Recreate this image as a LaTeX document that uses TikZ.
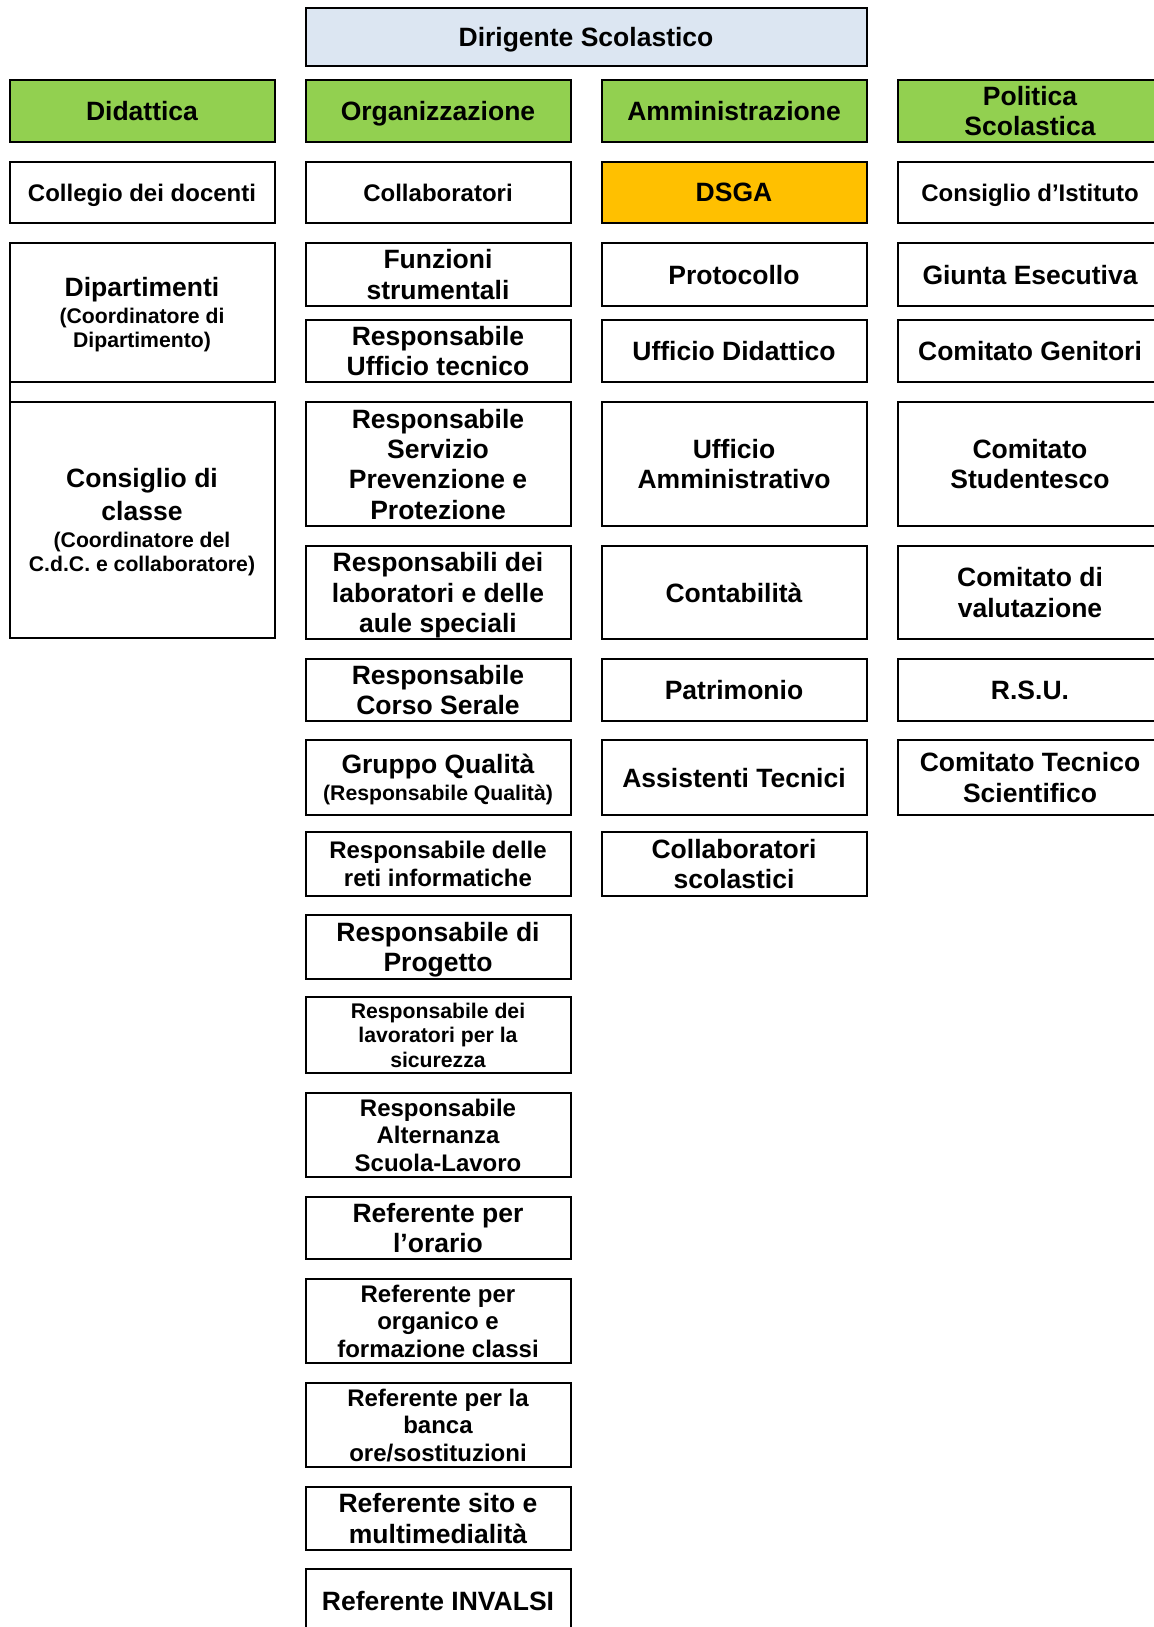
\documentclass[tikz,border=0pt]{standalone}
\usepackage{fontspec}
\setmainfont{Liberation Sans}
\usepackage{tikz}
\usetikzlibrary{positioning,calc}
\definecolor{orgGreen}{HTML}{92D050}
\definecolor{orgChief}{HTML}{DCE6F2}
\definecolor{orgGold} {HTML}{FFC000}
\newcommand\txtbig{\fontsize{13.25}{15.2}\selectfont}
\newcommand\txtmid{\fontsize{12}{13.8}\selectfont}
\newcommand\txtsml{\fontsize{10.6}{12.3}\selectfont}

\begin{document}
\begin{tikzpicture}[
  font=\bfseries\txtbig,
  bx/.style   ={draw, line width=1pt, minimum width=132.5pt, align=center,
                inner sep=0pt, outer sep=0pt, text depth=0pt},
  hd/.style   ={bx, fill=orgGreen, minimum height=31pt},
  chief/.style={bx, fill=orgChief, minimum width=280.5pt, minimum height=29pt},
  gold/.style ={bx, fill=orgGold},
  fmid/.style ={font=\bfseries\txtmid},
  fsml/.style ={font=\bfseries\txtsml},
]
\useasboundingbox (0,0) rectangle (576.5pt,-813.5pt);

% column heads
\node[hd, anchor=north west] (did) at (4.75pt,-40pt) {Didattica};
\node[hd, right=15.5pt of did] (org) {Organizzazione};
\node[hd, right=15.5pt of org] (amm) {Amministrazione};
\node[hd, right=15.5pt of amm] (pol) {Politica\\Scolastica};
\node[chief, above=7pt] (dir) at ($(org.north)!.5!(amm.north)$) {Dirigente Scolastico};

% Didattica
\node[bx, fmid, minimum height=30.5pt, below=10pt of did] (coll) {Collegio dei docenti};
\node[bx, fsml, minimum height=69.5pt, below=10pt of coll] (dip)
  {{\txtbig Dipartimenti}\\[1.2pt](Coordinatore di\\Dipartimento)};
\node[bx, fsml, minimum height=118pt, below=10pt of dip] (cdc)
  {{\txtbig Consiglio di}\\[3pt]{\txtbig classe}\\[1pt](Coordinatore del\\C.d.C. e collaboratore)};
\draw[line width=1pt] (dip.south west) -- (cdc.north west);

% Organizzazione
\node[bx, fmid, minimum height=30.5pt, below=10pt of org] (collab) {Collaboratori};
\node[bx, minimum height=31.5pt, below=10pt of collab] (funz) {Funzioni\\strumentali};
\node[bx, minimum height=31pt, below=7pt of funz] (rut) {Responsabile\\Ufficio tecnico};
\node[bx, minimum height=62pt, below=10pt of rut] (rspp)
  {Responsabile\\Servizio\\Prevenzione e\\Protezione};
\node[bx, minimum height=46.5pt, below=10pt of rspp] (rlab)
  {Responsabili dei\\laboratori e delle\\aule speciali};
\node[bx, minimum height=31pt, below=10pt of rlab] (serale) {Responsabile\\Corso Serale};
\node[bx, fsml, minimum height=37.5pt, below=9.5pt of serale] (qual)
  {{\txtbig Gruppo Qualità}\\[1pt](Responsabile Qualità)};
\node[bx, fmid, minimum height=32pt, below=8.5pt of qual] (reti)
  {Responsabile delle\\reti informatiche};
\node[bx, minimum height=32pt, below=9.5pt of reti] (prog) {Responsabile di\\Progetto};
\node[bx, fsml, minimum height=38pt, below=9pt of prog] (rls)
  {Responsabile dei\\lavoratori per la\\sicurezza};
\node[bx, fmid, minimum height=42pt, below=10pt of rls] (asl)
  {Responsabile\\Alternanza\\Scuola-Lavoro};
\node[bx, minimum height=31pt, below=10pt of asl] (orario) {Referente per\\l’orario};
\node[bx, fmid, minimum height=42pt, below=10pt of orario] (organico)
  {Referente per\\organico e\\formazione classi};
\node[bx, fmid, minimum height=42pt, below=10pt of organico] (banca)
  {Referente per la\\banca\\ore/sostituzioni};
\node[bx, minimum height=31.5pt, below=10pt of banca] (sito) {Referente sito e\\multimedialità};
\node[bx, minimum height=32pt, below=9.5pt of sito] (invalsi) {Referente INVALSI};

% Amministrazione
\node[gold, minimum height=30.5pt, below=10pt of amm] (dsga) {DSGA};
\node[bx, minimum height=31.5pt, below=10pt of dsga] (prot) {Protocollo};
\node[bx, minimum height=31pt, below=7pt of prot] (udid) {Ufficio Didattico};
\node[bx, minimum height=62pt, below=10pt of udid] (uamm) {Ufficio\\Amministrativo};
\node[bx, minimum height=46.5pt, below=10pt of uamm] (cont) {Contabilità};
\node[bx, minimum height=31pt, below=10pt of cont] (patr) {Patrimonio};
\node[bx, minimum height=37.5pt, below=9.5pt of patr] (atec) {Assistenti Tecnici};
\node[bx, minimum height=32pt, below=8.5pt of atec] (csco) {Collaboratori\\scolastici};

% Politica Scolastica
\node[bx, fmid, minimum height=30.5pt, below=10pt of pol] (cist) {Consiglio d’Istituto};
\node[bx, minimum height=31.5pt, below=10pt of cist] (giunta) {Giunta Esecutiva};
\node[bx, minimum height=31pt, below=7pt of giunta] (cgen) {Comitato Genitori};
\node[bx, minimum height=62pt, below=10pt of cgen] (cstud) {Comitato\\Studentesco};
\node[bx, minimum height=46.5pt, below=10pt of cstud] (cval) {Comitato di\\valutazione};
\node[bx, minimum height=31pt, below=10pt of cval] (rsu) {R.S.U.};
\node[bx, minimum height=37.5pt, below=9.5pt of rsu] (cts) {Comitato Tecnico\\Scientifico};

\end{tikzpicture}
\end{document}
